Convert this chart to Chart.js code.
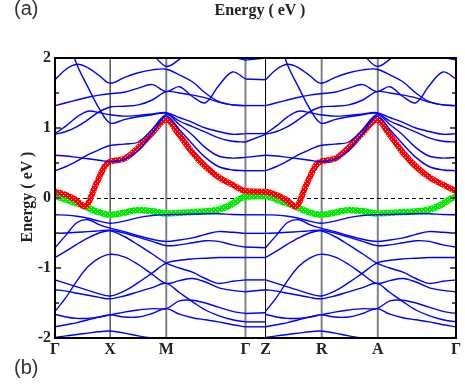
<!DOCTYPE html>
<html>
<head>
<meta charset="utf-8">
<script src="https://cdn.jsdelivr.net/npm/chart.js@4.4.0/dist/chart.umd.min.js"></script>
<style>
  body { margin: 0; background: #fff; }
  #wrap { position: relative; width: 465px; height: 389px; overflow: hidden; }
  #bands { position: absolute; left: 0; top: 0; }
  .panel { position: absolute; font-family: "Liberation Sans", Arial, sans-serif; font-size: 20px; line-height: 1; color: #333; }
  .axisTitle { position: absolute; font-family: "Liberation Serif", "Times New Roman", serif; font-weight: bold; font-size: 16px; line-height: 1; color: #222; white-space: nowrap; }
</style>
</head>
<body>
<div id="wrap">
  <canvas id="bands" width="465" height="389"></canvas>
  <div class="panel" style="left:14px; top:-2px;">(a)</div>
  <div class="axisTitle" style="left:260px; top:2px; transform:translateX(-50%);">Energy ( eV )</div>
  <div class="axisTitle" style="left:27px; top:197px; transform:translate(-50%,-50%) rotate(-90deg);">Energy ( eV )</div>
  <div class="panel" style="left:14px; top:357px;">(b)</div>
</div>
<script>
// k-path (distance along path) and labels
const kTicks = [0, 55, 111, 190, 210, 266, 322, 400];
const kLabels = ['Γ', 'X', 'M', 'Γ', 'Z', 'R', 'A', 'Γ'];
const yTicks = [-2, -1, 0, 1, 2];
const zStart = 210; // Z-R-A-Γ repeats Γ-X-M-Γ

// sample points along Γ-X-M-Γ
const kGrid = [0, 11, 22, 33, 44, 55, 69, 83, 97, 111, 124, 137, 150, 163, 177, 190];

// blue bands, energies in eV at kGrid
const bandU0 = [2.00, 2.08, 2.20, 2.30, 2.35, 2.35, 2.30, 2.15, 2.05, 1.88, 1.98, 2.15, 2.25, 2.15, 2.02, 1.97];
const bandA  = [1.69, 1.84, 1.91, 1.86, 1.75, 1.64, 1.72, 1.79, 1.83, 1.84, 1.76, 1.66, 1.50, 1.38, 1.33, 1.32];
const bandB  = [1.32, 1.36, 1.40, 1.44, 1.47, 1.49, 1.51, 1.57, 1.62, 1.52, 1.59, 1.45, 1.36, 1.60, 1.80, 1.70];
const bandC  = [0.92, 1.03, 1.16, 1.24, 1.22, 1.19, 1.17, 1.18, 1.20, 1.22, 1.15, 1.08, 1.00, 0.95, 0.91, 0.92];
const bandL  = [0.91, 0.95, 1.02, 1.12, 1.23, 1.30, 1.31, 1.33, 1.40, 1.52, 1.50, 1.47, 1.43, 1.37, 1.33, 1.32];
const bandS  = [2.70, 2.35, 1.90, 1.58, 1.28, 1.07, 1.12, 1.16, 1.19, 1.21, 1.10, 1.02, 0.94, 0.86, 0.81, 0.80];
const bandE1 = [0.61, 0.60, 0.58, 0.56, 0.54, 0.52, 0.55, 0.68, 0.92, 1.17, 0.98, 0.77, 0.58, 0.45, 0.40, 0.39];
const bandE2 = [0.39, 0.45, 0.53, 0.62, 0.69, 0.75, 0.77, 0.80, 0.98, 1.19, 1.05, 0.90, 0.72, 0.60, 0.57, 0.58];
const bandP1 = [-0.24, -0.245, -0.26, -0.29, -0.33, -0.36, -0.33, -0.28, -0.25, -0.24, -0.235, -0.23, -0.225, -0.225, -0.235, -0.24];
const bandP2 = [-0.71, -0.53, -0.35, -0.31, -0.38, -0.43, -0.48, -0.54, -0.59, -0.62, -0.60, -0.57, -0.52, -0.48, -0.49, -0.505];
const bandP3 = [-0.505, -0.50, -0.49, -0.48, -0.47, -0.46, -0.50, -0.56, -0.62, -0.68, -0.67, -0.64, -0.61, -0.62, -0.67, -0.70];
const bandP4 = [-0.85, -0.76, -0.66, -0.57, -0.50, -0.47, -0.55, -0.67, -0.80, -0.93, -1.00, -1.06, -1.15, -1.22, -1.19, -1.17];
const bandP5 = [-1.17, -1.22, -1.27, -1.32, -1.37, -1.40, -1.33, -1.21, -1.07, -0.93, -0.89, -0.87, -0.86, -0.85, -0.85, -0.85];
const bandQ  = [-1.62, -1.42, -1.18, -0.98, -0.86, -0.805, -0.84, -0.95, -1.09, -1.22, -1.18, -1.15, -1.20, -1.28, -1.32, -1.34];
const bandP6 = [-1.31, -1.33, -1.36, -1.39, -1.42, -1.44, -1.40, -1.34, -1.28, -1.22, -1.35, -1.48, -1.60, -1.68, -1.74, -1.77];
const bandP7 = [-1.66, -1.70, -1.72, -1.72, -1.70, -1.67, -1.63, -1.60, -1.58, -1.58, -1.47, -1.46, -1.50, -1.56, -1.62, -1.65];
const bandP8 = [-1.84, -1.81, -1.78, -1.74, -1.70, -1.67, -1.70, -1.70, -1.65, -1.58, -1.66, -1.71, -1.74, -1.77, -1.81, -1.84];
const bandP9 = [-1.995, -1.97, -1.95, -1.93, -1.91, -1.90, -1.93, -1.97, -2.00, -2.02, -2.05, -2.08, -2.10, -2.06, -2.02, -2.00];

const blueBands = [bandU0, bandA, bandB, bandC, bandL, bandS, bandE1, bandE2,
  bandP1, bandP2, bandP3, bandP4, bandP5, bandQ, bandP6, bandP7, bandP8, bandP9];

// nearly flat bands along Γ-Z (energy at Γ, energy at Z)
const gzAtGamma = [1.97, 1.70, 1.32, 0.92, 0.80, 0.58, 0.39, -0.24, -0.505, -0.70, -0.85, -1.17, -1.34, -1.65, -1.77, -1.84, -2.00];
const gzAtZ     = [2.00, 1.69, 1.32, 0.92, 0.91, 0.61, 0.39, -0.24, -0.505, -0.71, -0.85, -1.17, -1.31, -1.64, -1.77, -1.84, -1.995];

// projected (fat) bands
const redK = [0, 10, 20, 30, 41, 50, 55, 69, 83, 97, 111, 124, 137, 150, 163, 177, 190];
const redE = [0.09, 0.05, -0.02, -0.12, 0.20, 0.46, 0.52, 0.56, 0.72, 0.93, 1.12, 0.90, 0.65, 0.45, 0.30, 0.19, 0.10];
const greenK = [0, 14, 28, 41, 55, 69, 83, 97, 111, 137, 162, 175, 185, 190];
const greenE = [0.03, -0.04, -0.11, -0.19, -0.24, -0.21, -0.17, -0.19, -0.22, -0.20, -0.17, -0.10, -0.01, 0.02];

function half(ks, es, shift) {
  return ks.map((k, i) => ({ x: k + shift, y: es[i] }));
}

// speckled fill so the fat bands look like rows of open circles
function ringPattern(color, hole) {
  const c = document.createElement('canvas');
  c.width = 4; c.height = 4;
  const g = c.getContext('2d');
  g.fillStyle = color;
  g.fillRect(0, 0, 4, 4);
  g.fillStyle = hole;
  g.fillRect(1, 1, 1, 1);
  g.fillRect(3, 3, 1, 1);
  return g.createPattern(c, 'repeat');
}

const datasets = [];
blueBands.forEach(es => {
  datasets.push({
    data: half(kGrid, es, 0).concat([{ x: 200, y: null }], half(kGrid, es, zStart)),
    borderColor: 'rgb(0, 0, 255)',
    borderWidth: 1.4,
    tension: 0.35,
    order: 0
  });
});
gzAtGamma.forEach((e, i) => {
  datasets.push({
    data: [{ x: kTicks[3], y: e }, { x: kTicks[4], y: gzAtZ[i] }],
    borderColor: 'rgb(0, 0, 255)',
    borderWidth: 1.4,
    order: 0
  });
});
datasets.push({
  data: half(redK, redE, 0).concat(half(redK, redE, zStart)),
  borderColor: ringPattern('rgb(255, 0, 0)', 'rgb(255, 170, 170)'),
  borderWidth: 6,
  cubicInterpolationMode: 'monotone',
  order: 1
});
datasets.push({
  data: half(greenK, greenE, 0).concat(half(greenK, greenE, zStart)),
  borderColor: ringPattern('rgb(0, 235, 0)', 'rgb(160, 255, 160)'),
  borderWidth: 6.5,
  cubicInterpolationMode: 'monotone',
  order: 2
});

const labelFont = { family: '"Liberation Serif", "Times New Roman", serif', weight: 'bold', size: 16 };

// vertical lines at interior high-symmetry points
const symColors = ['#000', '#808080', '#808080', '#000', '#808080', '#808080'];
const symWidths = [1, 2, 2, 1, 2, 2];

const bandFrame = {
  id: 'bandFrame',
  beforeDatasetsDraw(chart) {
    const { ctx, chartArea: a, scales: { x, y } } = chart;
    ctx.save();
    kTicks.slice(1, -1).forEach((k, i) => {
      const px = x.getPixelForValue(k);
      ctx.strokeStyle = symColors[i];
      ctx.lineWidth = symWidths[i];
      ctx.beginPath();
      ctx.moveTo(px, a.top);
      ctx.lineTo(px, a.bottom);
      ctx.stroke();
    });
    const py = Math.round(y.getPixelForValue(0)) + 0.5;
    ctx.strokeStyle = '#000';
    ctx.lineWidth = 1;
    ctx.setLineDash([4, 3]);
    ctx.beginPath();
    ctx.moveTo(a.left, py);
    ctx.lineTo(a.right, py);
    ctx.stroke();
    ctx.restore();
  },
  afterDatasetsDraw(chart) {
    const { ctx, chartArea: a, scales: { y } } = chart;
    ctx.save();
    ctx.strokeStyle = '#555';
    ctx.lineWidth = 2;
    [-1.5, -1, -0.5, 0, 0.5, 1, 1.5].forEach(v => {
      const py = y.getPixelForValue(v);
      const len = Number.isInteger(v) ? 6 : 4;
      ctx.beginPath();
      ctx.moveTo(a.left, py); ctx.lineTo(a.left + len, py);
      ctx.moveTo(a.right, py); ctx.lineTo(a.right - len, py);
      ctx.stroke();
    });
    ctx.strokeStyle = '#000';
    ctx.lineWidth = 2;
    ctx.strokeRect(a.left, a.top, a.right - a.left, a.bottom - a.top);
    ctx.restore();
  }
};

new Chart(document.getElementById('bands').getContext('2d'), {
  type: 'line',
  data: { datasets: datasets },
  options: {
    responsive: false,
    animation: false,
    devicePixelRatio: 1,
    layout: { padding: { top: 58, right: 9, left: 0, bottom: 0 } },
    elements: { point: { radius: 0 } },
    plugins: { legend: { display: false }, tooltip: { enabled: false } },
    scales: {
      x: {
        type: 'linear',
        min: 0,
        max: 400,
        afterBuildTicks: s => { s.ticks = kTicks.map(v => ({ value: v })); },
        afterFit: s => { s.height = 51; },
        ticks: {
          autoSkip: false,
          maxRotation: 0,
          padding: 2,
          color: '#222',
          font: labelFont,
          callback: v => kLabels[kTicks.indexOf(v)]
        },
        grid: { display: false, drawTicks: false },
        border: { display: false }
      },
      y: {
        min: -2,
        max: 2,
        afterBuildTicks: s => { s.ticks = yTicks.map(v => ({ value: v })); },
        afterFit: s => { s.width = 55; },
        ticks: { padding: 4, color: '#222', font: labelFont },
        grid: { display: false, drawTicks: false },
        border: { display: false }
      }
    }
  },
  plugins: [bandFrame]
});
</script>
</body>
</html>
